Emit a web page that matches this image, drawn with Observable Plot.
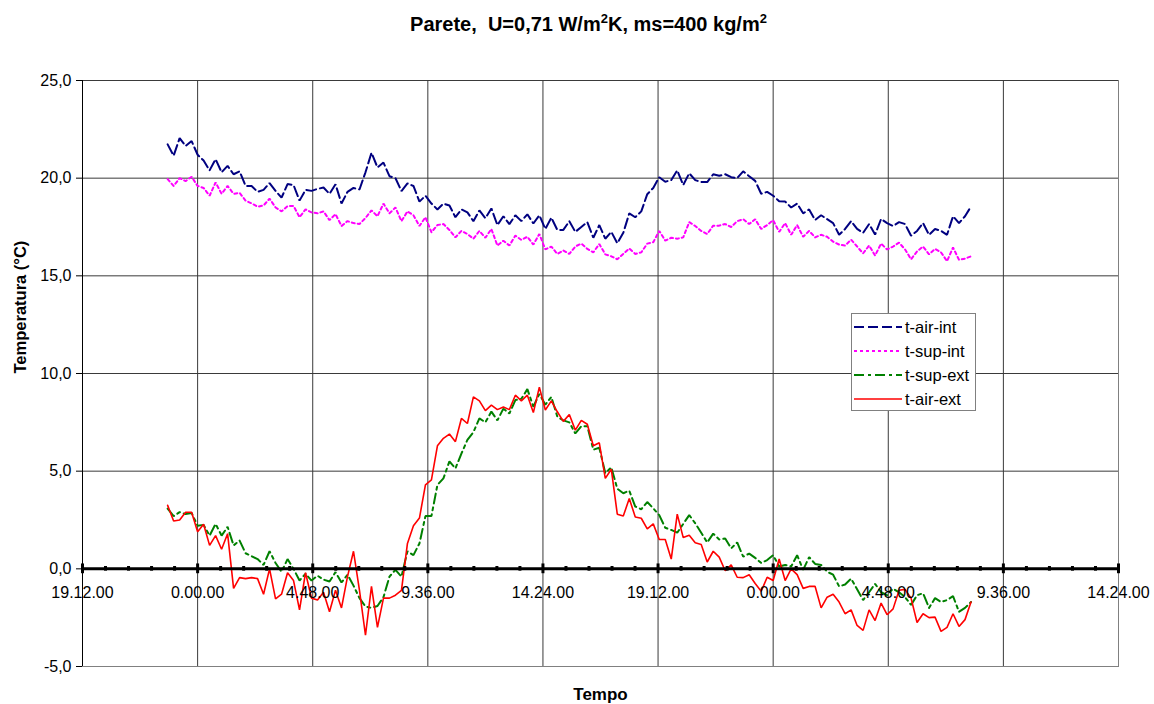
<!DOCTYPE html>
<html><head><meta charset="utf-8">
<script src="https://cdn.jsdelivr.net/npm/d3@7"></script>
<script src="https://cdn.jsdelivr.net/npm/@observablehq/plot@0.6"></script>
<style>
body{margin:0;background:#fff;font-family:"Liberation Sans",Arial,sans-serif;color:#000;}
#wrap{position:relative;width:1154px;height:704px;overflow:hidden;}
#title{height:52px;width:1154px;box-sizing:border-box;padding-top:12px;padding-left:23px;text-align:center;font-weight:bold;font-size:20px;line-height:24px;}
#title sup{font-size:13px;line-height:0;vertical-align:8px;}
#legend{position:absolute;left:851px;top:313px;width:125px;height:98px;box-sizing:border-box;background:#fff;border:1px solid #808080;padding-top:1px;}
.row{height:24px;display:flex;align-items:center;font-size:16.5px;}
.row svg{margin-left:2px;margin-right:3px;}
</style></head>
<body>
<div id="wrap">
<div id="title">Parete,&nbsp; U=0,71 W/m<sup>2</sup>K, ms=400 kg/m<sup>2</sup></div>
<div id="chart"></div>
<div id="legend"></div>
</div>
<script>
// sampling: first reading at 22:45, one reading every 15 minutes (hours)
const startHour = 22.75;
const stepHour = 0.25;
const seriesNames = ["t-air-int", "t-sup-int", "t-sup-ext", "t-air-ext"];
const seriesColors = ["#000080", "#FF00FF", "#008000", "#FF0000"];
const seriesDash = ["10,4", "3,3", "10,4,3,4", "none"];
const xTickHours = [19.2, 24, 28.8, 33.6, 38.4, 43.2, 48, 52.8, 57.6, 62.4];
const yTicks = [-5, 0, 5, 10, 15, 20, 25];

const tAirInt = [21.73,21.15,22.05,21.65,21.9,21.2,20.9,20.4,20.97,20.3,20.63,20.2,20.35,19.6,19.6,19.3,19.4,19.75,19.35,19.0,
19.7,19.65,18.85,19.4,19.35,19.45,19.52,19.2,19.69,18.7,19.3,19.5,19.42,20.3,21.3,20.55,20.8,20.1,20.0,19.34,
19.73,19.6,18.8,19.1,18.7,18.4,18.7,18.6,18.0,18.4,18.25,17.8,18.35,17.95,18.45,17.6,18.05,17.65,18.1,17.8,
18.15,17.68,18.1,17.4,17.98,17.35,17.35,17.8,17.25,17.5,17.75,16.95,17.6,16.9,17.25,16.67,17.2,18.2,18.0,18.3,
19.18,19.5,20.05,19.82,19.9,20.4,19.65,20.25,19.9,19.8,19.8,20.2,20.12,20.2,20.05,20.0,20.35,20.1,19.86,19.2,
19.3,19.1,18.82,18.8,18.5,18.7,18.2,18.4,17.86,18.1,17.9,17.7,17.1,17.4,17.8,17.4,17.2,17.65,17.11,17.91,
17.7,17.55,17.75,17.65,17.05,17.3,17.7,17.1,17.4,17.3,17.1,18.05,17.7,18.05,18.55];

const tSupInt = [19.95,19.6,20.0,19.85,20.07,19.6,19.5,19.1,19.78,19.2,19.6,19.2,19.25,18.85,18.71,18.54,18.6,18.95,18.5,18.3,
18.57,18.58,18.0,18.4,18.25,18.2,18.3,17.85,18.16,17.55,17.8,17.7,17.65,17.96,18.35,18.05,18.7,18.2,18.5,17.8,
18.3,18.1,17.55,18.0,17.23,17.6,17.65,17.35,16.97,17.3,17.14,16.9,17.3,16.95,17.4,16.55,16.8,16.55,17.06,16.84,
17.0,16.6,17.14,16.35,16.5,16.12,16.3,16.12,16.5,16.65,16.38,16.2,16.63,16.1,16.0,15.85,16.12,16.4,16.12,16.2,
16.65,16.72,17.3,16.8,16.95,16.9,16.97,17.75,17.55,17.3,17.14,17.57,17.57,17.65,17.5,17.8,17.9,17.65,17.9,17.4,
17.6,17.85,17.25,17.7,17.1,17.6,17.0,17.3,16.97,17.1,17.0,16.75,16.6,16.55,16.85,16.5,16.15,16.55,16.04,16.65,
16.35,16.5,16.7,16.35,15.85,16.25,16.5,16.1,16.38,16.2,15.75,16.45,15.82,15.88,16.0];

const tSupExt = [3.08,2.7,2.9,2.8,2.86,2.2,2.25,1.7,2.3,1.7,2.15,1.2,1.45,0.8,0.65,0.5,0.2,0.9,0.3,-0.15,
0.5,0.0,-0.6,-0.25,-0.6,-0.35,-0.55,-0.65,-0.17,-0.7,-0.3,-0.86,-1.5,-1.93,-2.0,-1.9,-1.45,-0.4,-0.05,-0.4,
0.9,0.7,1.3,2.7,2.7,4.3,4.63,5.5,5.14,5.9,6.6,7.0,7.7,7.5,8.05,7.6,8.2,7.95,8.64,8.7,
9.2,8.3,8.95,8.4,8.8,7.79,7.6,7.5,6.93,7.3,7.3,6.1,6.2,4.9,5.2,4.1,3.87,4.0,3.19,3.05,
3.42,3.1,2.75,2.1,1.99,1.85,2.3,2.75,2.33,1.85,1.35,1.8,1.5,1.55,1.05,1.35,0.62,0.78,0.56,0.3,
0.45,0.7,0.12,0.2,0.12,0.7,-0.05,0.6,0.25,0.2,-0.15,-0.3,-0.9,-0.8,-0.5,-1.05,-1.6,-1.2,-0.77,-1.2,
-1.35,-1.02,-1.2,-1.45,-1.85,-1.35,-1.25,-2.0,-1.5,-1.7,-1.6,-1.4,-2.2,-2.0,-1.7];

const tAirExt = [3.25,2.45,2.5,2.9,2.9,1.9,2.28,1.2,1.7,1.0,1.8,-1.0,-0.45,-0.5,-0.45,-0.5,-1.3,0.0,-1.54,-1.3,
-0.2,-0.6,-2.1,-0.2,-1.5,-1.6,-1.2,-2.2,-1.1,-2.0,-0.4,0.9,-1.1,-3.4,-0.9,-3.0,-1.5,-1.5,-1.35,-1.1,
1.3,2.2,2.6,4.3,4.55,6.3,6.68,6.9,6.51,7.7,7.44,8.8,8.6,8.1,8.38,8.15,8.28,8.15,8.89,8.6,
8.89,8.0,9.3,8.13,8.6,8.04,7.55,7.9,7.1,7.6,7.4,6.3,6.45,4.63,5.1,2.8,2.7,3.6,2.65,2.59,
2.05,2.3,1.5,1.5,0.5,2.8,1.6,1.72,1.34,1.25,0.35,0.9,0.6,-0.1,0.2,-0.43,-0.45,-0.3,-0.75,-1.15,
-0.43,-0.6,0.5,-0.6,0.0,-0.3,-1.0,-0.9,-0.9,-2.0,-1.45,-1.3,-1.7,-2.3,-2.1,-2.9,-3.15,-2.1,-2.65,-1.75,
-2.35,-2.05,-1.1,-1.05,-1.5,-2.75,-2.3,-2.5,-2.47,-3.2,-3.0,-2.3,-2.95,-2.6,-1.7];

const allSeries = [tAirInt, tSupInt, tSupExt, tAirExt];
const rows = [];
allSeries.forEach((vals, s) => vals.forEach((v, i) => rows.push({t: startHour + stepHour * i, v, s: seriesNames[s]})));

const fmtTime = h => {
  const hh = ((h % 24) + 24) % 24;
  const H = Math.floor(hh + 1e-6);
  const M = Math.round((hh - H) * 60);
  return `${H}.${String(M).padStart(2, "0")}.00`;
};
const minorTicks = d3.range(0, 46).map(k => 19.2 + k * 0.96).filter((d, k) => k % 5 !== 0);
const innerX = xTickHours.slice(1, -1);

const lineMarks = seriesNames.map((name, s) =>
  Plot.line(rows.filter(r => r.s === name), {
    x: "t", y: "v", stroke: seriesColors[s],
    strokeWidth: s === 3 ? 1.6 : 2,
    strokeDasharray: seriesDash[s] === "none" ? null : seriesDash[s],
    strokeLinejoin: "miter"
  })
);

const chart = Plot.plot({
  width: 1154, height: 652,
  marginLeft: 82, marginRight: 36, marginTop: 28, marginBottom: 38,
  style: {fontFamily: "Liberation Sans, Arial, sans-serif", fontSize: "16px", color: "#000", background: "#fff"},
  x: {domain: [19.2, 62.4], axis: null},
  y: {domain: [-5, 25], axis: null},
  marks: [
    Plot.frame({stroke: "#808080"}),
    Plot.ruleY([5, 10, 15, 20, 25], {stroke: "#3a3a3a", strokeWidth: 1}),
    Plot.ruleX(innerX, {stroke: "#3a3a3a", strokeWidth: 1}),
    Plot.axisY({ticks: yTicks, tickFormat: d => d.toFixed(1).replace(".", ","), tickSize: 6, tickPadding: 5, stroke: "#000", fontSize: 16, label: null}),
    Plot.ruleX([19.2], {stroke: "#000", strokeWidth: 1}),
    ...lineMarks,
    Plot.ruleY([0], {stroke: "#000", strokeWidth: 3}),
    Plot.ruleX(minorTicks, {y1: -0.12, y2: 0.12, stroke: "#000", strokeWidth: 3}),
    Plot.ruleX(xTickHours, {y1: -0.25, y2: 0.25, stroke: "#000", strokeWidth: 3}),
    Plot.text(xTickHours, {x: d => d, y: 0, text: fmtTime, dy: 24, fontSize: 16, fill: "#000", lineAnchor: "middle"}),
    Plot.text(["Temperatura (°C)"], {frameAnchor: "left", rotate: -90, dx: -62, fontWeight: "bold", fontSize: 16.5, fill: "#000"}),
    Plot.text(["Tempo"], {frameAnchor: "bottom", dy: 28, fontWeight: "bold", fontSize: 17, fill: "#000", lineAnchor: "middle"})
  ]
});
document.getElementById("chart").appendChild(chart);

// legend
const leg = document.getElementById("legend");
seriesNames.forEach((name, s) => {
  const row = document.createElement("div");
  row.className = "row";
  const dash = seriesDash[s] === "none" ? "" : `stroke-dasharray="${seriesDash[s]}"`;
  row.innerHTML = `<svg width="48" height="10"><line x1="0" y1="5" x2="48" y2="5" stroke="${seriesColors[s]}" stroke-width="${s === 3 ? 1.6 : 2}" ${dash}/></svg><span>${name}</span>`;
  leg.appendChild(row);
});
</script>
</body></html>
